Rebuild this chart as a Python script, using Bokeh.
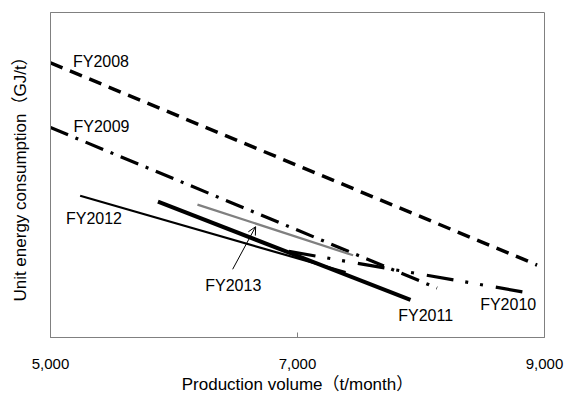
from bokeh.plotting import figure
from bokeh.models import Range1d, FixedTicker, NumeralTickFormatter, Arrow, OpenHead, ColumnDataSource
from bokeh.core.properties import value
from bokeh.embed import file_html
from bokeh.resources import INLINE

# Data (production volume t/month, unit energy consumption in relative units)
fy2008_x = [5000, 8940]
fy2008_y = [84.5, 22.3]
fy2009_x = [5000, 8130]
fy2009_y = [64.6, 15.2]
fy2010_x = [6930, 8830]
fy2010_y = [26.5, 14.0]
fy2011_x = [5870, 7915]
fy2011_y = [41.8, 11.6]
fy2012_x = [5240, 7390]
fy2012_y = [43.6, 20.1]
fy2013_x = [6190, 7450]
fy2013_y = [40.9, 25.3]

label_text = ["FY2008", "FY2009", "FY2012", "FY2013", "FY2011", "FY2010"]
label_x = [5182, 5186, 5125, 6253, 7816, 8479]
label_y = [84.8, 64.9, 36.6, 15.9, 6.7, 10.1]

arrow_tail = (6475, 21.0)
arrow_head = (6661, 34.1)

x_ticks = [5000, 7000, 9000]

FONT = "Liberation Sans, Noto Sans CJK JP"

p = figure(width=566, height=396, output_backend="svg", toolbar_location=None,
           x_range=Range1d(5000, 9000), y_range=Range1d(0, 100),
           min_border_left=50, min_border_right=22, min_border_top=12, min_border_bottom=56)
p.background_fill_color = "white"
p.border_fill_color = "white"
p.xgrid.visible = False
p.ygrid.visible = False
p.outline_line_color = "#808080"
p.outline_line_width = 1

xa = p.xaxis[0]
xa.ticker = FixedTicker(ticks=x_ticks)
xa.formatter = NumeralTickFormatter(format="0,0")
xa.major_tick_in = 5
xa.major_tick_out = 0
xa.minor_tick_line_color = None
xa.major_tick_line_color = "#808080"
xa.axis_line_color = "#808080"
xa.major_label_standoff = 21
xa.major_label_text_font = FONT
xa.major_label_text_font_size = "15px"
xa.major_label_text_color = "black"
xa.axis_label = "Production volume（t/month）"
xa.axis_label_text_font = FONT
xa.axis_label_text_font_size = "17px"
xa.axis_label_text_font_style = "normal"
xa.axis_label_text_color = "black"
xa.axis_label_standoff = 3

ya = p.yaxis[0]
ya.ticker = FixedTicker(ticks=[])
ya.major_tick_line_color = None
ya.minor_tick_line_color = None
ya.axis_line_color = "#808080"
ya.major_label_text_font_size = "0px"
ya.axis_label = "Unit energy consumption（GJ/t）"
ya.axis_label_text_font = FONT
ya.axis_label_text_font_size = "17px"
ya.axis_label_text_font_style = "normal"
ya.axis_label_text_color = "black"
ya.axis_label_standoff = 21

p.line(fy2008_x, fy2008_y, line_color="black", line_width=3.5, line_dash="13 8")
p.line(fy2009_x, fy2009_y, line_color="black", line_width=3.2, line_dash="19 8 3 8")
p.line(fy2010_x, fy2010_y, line_color="black", line_width=3.2, line_dash="27 12 3 12 3 13")
p.line(fy2012_x, fy2012_y, line_color="black", line_width=2.2)
p.line(fy2011_x, fy2011_y, line_color="black", line_width=4)
p.line(fy2013_x, fy2013_y, line_color="#808080", line_width=2.3)

p.add_layout(Arrow(end=OpenHead(size=8, line_width=1, line_color="black"),
                   x_start=arrow_tail[0], y_start=arrow_tail[1],
                   x_end=arrow_head[0], y_end=arrow_head[1],
                   line_width=1, line_color="black"))

src = ColumnDataSource(dict(x=label_x, y=label_y, t=label_text))
p.text(x="x", y="y", text="t", source=src, text_font=value(FONT), text_font_size="16px",
       text_baseline="middle", text_align="left", text_color="black")

open("out.html", "w").write(file_html(p, INLINE))
